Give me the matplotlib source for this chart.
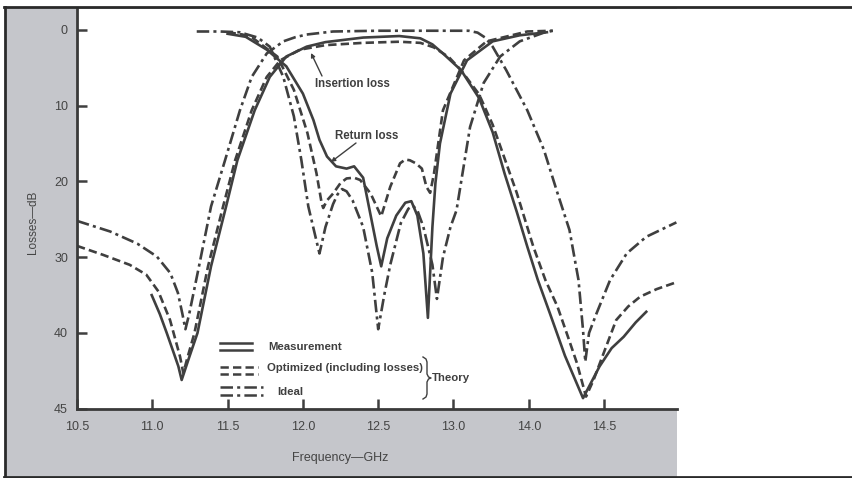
import matplotlib.pyplot as plt
from matplotlib.patches import Rectangle
from matplotlib.lines import Line2D

plt.rcParams['font.family'] = ['Liberation Sans', 'DejaVu Sans']
plt.rcParams['lines.scale_dashes'] = False

W, H = 853, 478
ink = '#3f3f3f'
gray_bg = '#c5c6cb'

# ---- insertion loss (dB) vs frequency (GHz) ----
il_meas_f = [10.996, 11.05, 11.096, 11.14, 11.173, 11.195, 11.24, 11.30, 11.39, 11.49, 11.565,
             11.68, 11.78, 11.89, 12.025, 12.15, 12.4, 12.64, 12.78, 12.86, 12.93, 13.05, 13.17, 13.26,
             13.34, 13.42, 13.49, 13.56, 13.64, 13.74, 13.86, 13.97, 14.05, 14.13, 14.21, 14.28]
il_meas_db = [35.0, 37.5, 40.0, 42.5, 44.4, 46.2, 43.5, 40.0, 31.2, 23.3, 17.2,
              10.6, 6.2, 3.5, 2.2, 1.6, 1.0, 0.8, 1.1, 1.9, 3.1, 5.3, 9.0, 13.5,
              19.0, 24.0, 28.6, 33.0, 37.4, 43.0, 48.6, 44.4, 42.0, 40.5, 38.6, 37.2]

il_opt_f = [10.5, 10.675, 10.85, 10.96, 11.04, 11.118, 11.184, 11.206, 11.23, 11.28, 11.37, 11.47,
            11.55, 11.66, 11.76, 11.85, 11.98, 12.15, 12.4, 12.64, 12.78, 12.87, 12.97, 13.05,
            13.17, 13.26, 13.34, 13.42, 13.53, 13.61, 13.69, 13.76, 13.82, 13.88, 13.93, 14.0,
            14.08, 14.16, 14.24, 14.35, 14.48]
il_opt_db = [28.5, 29.7, 31.0, 32.3, 34.5, 38.3, 43.1, 45.3, 43.5, 40.0, 31.2, 23.3,
             17.2, 10.6, 6.2, 4.0, 2.6, 2.0, 1.7, 1.55, 1.7, 2.3, 3.6, 5.3,
             8.5, 12.5, 17.0, 21.5, 28.6, 33.0, 36.5, 40.5, 44.0, 48.4, 46.2, 42.5,
             38.3, 36.5, 35.2, 34.2, 33.3]

il_ideal_f = [10.5, 10.72, 10.90, 11.03, 11.12, 11.17, 11.20, 11.22, 11.245, 11.31, 11.39, 11.483,
              11.582, 11.66, 11.76, 11.87, 11.95, 12.025, 12.2, 12.5, 13.1, 13.16, 13.21, 13.26,
              13.35, 13.49, 13.60, 13.69, 13.77, 13.83, 13.86, 13.875, 13.90, 13.95, 14.04, 14.15,
              14.28, 14.48]
il_ideal_db = [25.2, 26.6, 28.2, 29.9, 32.1, 34.7, 37.5, 39.5, 37.5, 31.2, 23.3, 17.2,
               10.6, 6.2, 3.1, 1.5, 0.95, 0.6, 0.2, 0.1, 0.1, 0.35, 1.0, 2.2,
               5.3, 10.6, 15.8, 21.5, 26.4, 33.0, 39.6, 43.8, 40.0, 37.4, 33.0, 29.5,
               27.3, 25.4]

# ---- return loss (dB) vs frequency (GHz) ----
rl_meas_f = [11.50, 11.62, 11.76, 11.89, 12.0, 12.07, 12.11, 12.16, 12.22, 12.29, 12.34, 12.40,
             12.45, 12.49, 12.52, 12.56, 12.62, 12.68, 12.72, 12.76, 12.80, 12.83, 12.86, 12.88,
             12.91, 12.98, 13.09, 13.26, 13.44, 13.62]
rl_meas_db = [0.5, 0.9, 2.6, 4.8, 8.4, 11.9, 14.5, 16.7, 18.0, 18.3, 18.0, 19.5,
              24.5, 28.5, 31.2, 27.5, 24.5, 22.8, 22.6, 24.5, 29.5, 38.0, 26.0, 20.2,
              15.0, 8.4, 4.0, 1.5, 0.7, 0.3]

rl_opt_f = [11.50, 11.60, 11.67, 11.83, 11.94, 12.03, 12.09, 12.125, 12.135, 12.16, 12.20, 12.25,
            12.29, 12.34, 12.38, 12.45, 12.52, 12.58, 12.645, 12.68, 12.71, 12.75, 12.79, 12.82,
            12.845, 12.87, 12.93, 13.07, 13.22, 13.49, 13.66]
rl_opt_db = [0.3, 0.6, 1.1, 3.5, 7.9, 13.6, 18.9, 22.9, 23.5, 22.5, 21.6, 20.2,
             19.6, 19.5, 19.8, 21.6, 24.6, 20.7, 17.6, 17.1, 17.2, 17.6, 18.3, 20.7,
             21.5, 19.0, 10.6, 4.0, 1.5, 0.2, 0.1]

rl_ideal_f = [11.295, 11.45, 11.58, 11.70, 11.78, 11.87, 11.94, 11.99, 12.036, 12.08, 12.11, 12.15,
              12.20, 12.23, 12.26, 12.29, 12.33, 12.40, 12.46, 12.50, 12.54, 12.58, 12.65, 12.70,
              12.73, 12.76, 12.80, 12.86, 12.89, 12.93, 12.98, 13.02, 13.11, 13.20, 13.31, 13.44,
              13.60, 13.66]
rl_ideal_db = [0.2, 0.2, 0.3, 1.0, 2.2, 6.2, 11.4, 17.2, 23.3, 27.0, 29.5, 26.0,
               23.0, 21.7, 21.0, 21.3, 22.5, 26.0, 32.0, 39.5, 35.0, 31.0, 25.5, 23.6,
               23.2, 23.8, 26.0, 31.0, 35.5, 30.0, 26.0, 23.8, 12.8, 7.0, 3.5, 1.5,
               0.35, 0.1]

x_ticks = [10.5, 11.0, 11.5, 12.0, 12.5, 13.0, 13.5, 14.0]
x_tick_labels = ['10.5', '11.0', '11.5', '12.0', '12.5', '13.0', '14.0', '14.5']
y_ticks = [0, 10, 20, 30, 40, 50]
y_tick_labels = ['0', '10', '20', '30', '40', '45']

solid = '-'
dashed = (0, (6, 3))
dashdot = (0, (9, 3, 2.2, 3))


def fp(x, y):
    # pixel position (from top-left) -> figure fraction
    return (x / W, 1 - y / H)


fig = plt.figure(figsize=(W / 100, H / 100), dpi=100)
fig.patch.set_facecolor('white')

# scanned page background and frame
fig.add_artist(Rectangle(fp(5, 477), 672 / W, 470 / H, transform=fig.transFigure,
                         facecolor=gray_bg, edgecolor='none', zorder=0))
for (x0, y0), (x1, y1) in [((4, 7), (853, 7)), ((5, 7), (5, 477)), ((4, 477), (853, 477))]:
    fig.add_artist(Line2D([x0 / W, x1 / W], [1 - y0 / H, 1 - y1 / H], transform=fig.transFigure,
                          color='#2a2a2a', lw=2.0, zorder=5))

ax = fig.add_axes([77 / W, 1 - 408.75 / H, 600 / W, 399.75 / H])
ax.set_facecolor('white')
ax.set_zorder(1)

lw = 1.9
ax.plot(il_meas_f, il_meas_db, color=ink, lw=lw, linestyle=solid)
ax.plot(rl_meas_f, rl_meas_db, color=ink, lw=lw, linestyle=solid)
ax.plot(il_opt_f, il_opt_db, color=ink, lw=lw, linestyle=dashed)
ax.plot(rl_opt_f, rl_opt_db, color=ink, lw=lw, linestyle=dashed)
ax.plot(il_ideal_f, il_ideal_db, color=ink, lw=lw, linestyle=dashdot)
ax.plot(rl_ideal_f, rl_ideal_db, color=ink, lw=lw, linestyle=dashdot)

ax.set_xlim(10.5, 10.5 + 600 / 150.6)
ax.set_ylim(50, -2.77)
ax.set_xticks(x_ticks)
ax.set_xticklabels(x_tick_labels)
ax.set_yticks(y_ticks)
ax.set_yticklabels(y_tick_labels)
ax.tick_params(direction='in', length=7, width=1.8, color=ink, labelcolor='#444444', labelsize=9)
ax.tick_params(axis='y', pad=6.5)
ax.tick_params(axis='x', pad=8.5)
for s in ['top', 'right']:
    ax.spines[s].set_visible(False)
for s in ['left', 'bottom']:
    ax.spines[s].set_color('#3a3a3a')
    ax.spines[s].set_linewidth(2.0)

fig.text(*fp(33, 222), 'Losses—dB', rotation=90, ha='center', va='center', fontsize=8.5, color='#444444')
fig.text(*fp(340, 458), 'Frequency—GHz', ha='center', va='center', fontsize=9, color='#444444')

# curve annotations
fig.text(*fp(315, 84), 'Insertion loss', ha='left', va='center', fontsize=8.3, fontweight='bold', color=ink)
fig.text(*fp(335, 136), 'Return loss', ha='left', va='center', fontsize=8.3, fontweight='bold', color=ink)
arrow = dict(arrowstyle='-|>', lw=1.0, color=ink, mutation_scale=6, shrinkA=0, shrinkB=0)
ax.annotate('', xy=fp(311, 53), xytext=fp(322, 76), xycoords='figure fraction',
            textcoords='figure fraction', arrowprops=arrow)
ax.annotate('', xy=fp(331, 162), xytext=fp(356, 143), xycoords='figure fraction',
            textcoords='figure fraction', arrowprops=arrow)

# hand-drawn legend
legend_rows = [
    (solid, 'Measurement', 252, 343, 350, 268, 347),
    (dashed, 'Optimized (including losses)', 258, 367, 374, 267, 368),
    (dashdot, 'Ideal', 263, 387, 395, 277, 392),
]
for style, label, xr, ya, yb, tx, ty in legend_rows:
    for yy in (ya, yb):
        fig.add_artist(Line2D([220 / W, xr / W], [1 - yy / H, 1 - yy / H], transform=fig.transFigure,
                              color=ink, lw=1.8, linestyle=style, zorder=3))
    fig.text(*fp(tx, ty), label, ha='left', va='center', fontsize=8.2, fontweight='bold', color=ink, zorder=3)

brace = [(423, 357), (426, 359), (427, 362), (427, 374), (428.5, 377), (431, 378), (428.5, 379),
         (427, 382), (427, 394), (426, 397), (423, 399)]
fig.add_artist(Line2D([p[0] / W for p in brace], [1 - p[1] / H for p in brace],
                      transform=fig.transFigure, color=ink, lw=1.0, zorder=3))
fig.text(*fp(432, 378), 'Theory', ha='left', va='center', fontsize=8.2, fontweight='bold', color=ink, zorder=3)

fig.savefig('out.png', dpi=100)
